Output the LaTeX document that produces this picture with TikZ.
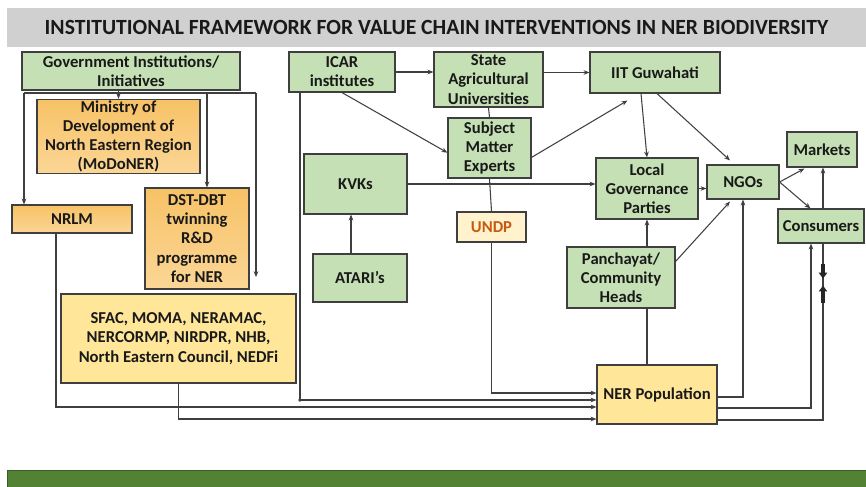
\documentclass[tikz,border=0pt]{standalone}
\usepackage{fontspec}
\setmainfont{Carlito}
\usetikzlibrary{arrows.meta,calc}

\definecolor{boxgreen}{HTML}{C5E0B4}
\definecolor{boxorange}{HTML}{F7C266}
\definecolor{boxorangelt}{HTML}{FBD696}
\definecolor{boxyellow}{HTML}{FFE699}
\definecolor{boxcream}{HTML}{FFF2CC}
\definecolor{undptext}{HTML}{C55A11}
\definecolor{edgegray}{HTML}{3F3F3F}
\definecolor{titlegray}{HTML}{D0D0D0}
\definecolor{footgreen}{HTML}{548235}

\tikzset{
  box/.style={draw=edgegray, line width=1pt, align=center, inner sep=1pt,
    font=\fontsize{14.2}{16.4}\selectfont\bfseries, text=black!90},
  gbox/.style={box, fill=boxgreen},
  obox/.style={box, top color=boxorange, bottom color=boxorangelt},
  ybox/.style={box, fill=boxyellow},
  conn/.style={draw=edgegray, line width=0.9pt},
  bigtip/.style={draw=black!85, line width=3pt, -{Triangle[length=5pt,width=7pt]}},
}

\begin{document}
\begin{tikzpicture}[x=0.03cm, y=-0.03cm, >={Stealth[length=5pt,width=4pt]}]
\useasboundingbox (0,0) rectangle (866,487);

%% =============== Banner and footer strip ===============
\node[fill=titlegray, minimum width=25.77cm, minimum height=1.17cm, inner sep=0pt,
  font=\fontsize{18.5}{21}\selectfont\bfseries, text=black!90] (title) at (436.5,27.5)
  {INSTITUTIONAL FRAMEWORK FOR VALUE CHAIN INTERVENTIONS IN NER BIODIVERSITY};
\node[fill=footgreen, draw=footgreen!70!black, line width=0.8pt, minimum width=25.77cm,
  minimum height=0.51cm, inner sep=0pt] (footer) at (436.5,478.5) {};

%% =============== Government side (left) ===============
\node[gbox, minimum width=6.54cm, minimum height=1.14cm] (gov) at (131,71)
  {Government Institutions/\\Initiatives};
\node[obox, minimum width=4.89cm, minimum height=2.19cm] (modoner) at (118.5,136.5)
  {Ministry of\\Development of\\North Eastern Region\\(MoDoNER)};
\node[obox, minimum width=3.6cm, minimum height=0.84cm] (nrlm) at (72,219) {NRLM};
\node[obox, minimum width=3.12cm, minimum height=3.03cm] (dst) at (197,238.5)
  {DST-DBT\\twinning\\R\&D\\programme\\for NER};
\node[ybox, minimum width=7.05cm, minimum height=2.67cm] (sfac) at (178.5,338.5)
  {SFAC, MOMA, NERAMAC,\\NERCORMP, NIRDPR, NHB,\\North Eastern Council, NEDFi};

%% =============== Research and extension (middle) ===============
\node[gbox, minimum width=3.18cm, minimum height=1.2cm] (icar) at (342,72) {ICAR\\institutes};
\node[gbox, minimum width=3.27cm, minimum height=1.65cm] (sau) at (488.5,79.5)
  {State\\Agricultural\\Universities};
\node[gbox, minimum width=3.9cm, minimum height=1.23cm] (iit) at (655,72.5) {IIT Guwahati};
\node[gbox, minimum width=2.49cm, minimum height=1.8cm] (sme) at (489.5,148)
  {Subject\\Matter\\Experts};
\node[gbox, minimum width=3.09cm, minimum height=1.8cm] (kvks) at (355.5,184) {KVKs};
\node[box, fill=boxcream, text=undptext, minimum width=2.07cm, minimum height=0.9cm]
  (undp) at (491.5,227) {UNDP};
\node[gbox, minimum width=2.82cm, minimum height=1.44cm] (atari) at (360,278) {ATARI’s};

%% =============== Local level and markets (right) ===============
\node[gbox, minimum width=3.06cm, minimum height=1.83cm] (lgp) at (647,188.5)
  {Local\\Governance\\Parties};
\node[gbox, minimum width=2.16cm, minimum height=1.02cm] (ngos) at (743,182) {NGOs};
\node[gbox, minimum width=2.1cm, minimum height=1.05cm] (mkts) at (822,149.5) {Markets};
\node[gbox, minimum width=2.58cm, minimum height=1.02cm] (cons) at (821,226) {Consumers};
\node[gbox, minimum width=3.24cm, minimum height=1.83cm] (pan) at (621,277.5)
  {Panchayat/\\Community\\Heads};
\node[ybox, minimum width=3.6cm, minimum height=1.77cm] (nerpop) at (657,394.5)
  {NER Population};

%% --- Lanes used by the long connectors ---
\coordinate (busL) at (24,93);
\coordinate (busR) at (256,93);
\coordinate (busD) at (207,93);
\coordinate (laneNRLM) at (56,407);
\coordinate (laneSFAC) at (178,419);
\coordinate (laneICAR) at (300,400);
\coordinate (laneUNDP) at (489,393);
\coordinate (outA) at (743,397);
\coordinate (outB) at (811,408);
\coordinate (outC) at (823,420);

%% --- Government bus ---
\draw[conn] (busL) -- (busR);
\draw[conn,->] (modoner.north |- gov.south) -- (modoner.north);
\draw[conn,->] (busL) -- (busL |- nrlm.north);
\draw[conn,->] (busD) -- (busD |- dst.north);
\draw[conn,->, shorten >=14pt] (busR) -- (busR |- sfac.north);

%% --- Into NER Population ---
\draw[conn,->] (nrlm.south -| laneNRLM) -- (laneNRLM) -- (laneNRLM -| nerpop.west);
\draw[conn,->] (sfac.south) |- (laneSFAC -| nerpop.west);
\draw[conn,->] (icar.south -| laneICAR) -- (laneICAR) -- (laneICAR -| nerpop.west);
\fill[edgegray] (laneICAR) circle (1.6pt);
\draw[conn,->] (undp.south) |- (laneUNDP -| nerpop.west);
\draw[conn] (lgp.south |- pan.south) -- (lgp.south |- nerpop.north);

%% --- Research links ---
\draw[conn,->] (icar.east) -- (icar.east -| sau.west);
\draw[conn,->] (iit.west -| sau.east) -- (iit.west);
\draw[conn,->] (icar.south) -- ([yshift=-4pt]sme.west);
\draw[conn] (sau.south) -- (sme.north);
\draw[conn] (sme.south) -- (undp.north);
\draw[conn,->] ([yshift=-8pt]sme.east) -- ($(iit.south west)+(38,7)$);
\draw[conn,->] (kvks.east) -- (kvks.east -| lgp.west);
\draw[conn,->] (atari.north -| 351,0) -- (kvks.south -| 351,0);

%% --- Local level ---
\draw[conn,->] ($(iit.south)+(-14,0)$) -- (lgp.north);
\draw[conn,->] ($(iit.south)+(2,0)$) -- ($(ngos.north)+(-13,-4)$);
\draw[conn,->] (lgp.east) -- (lgp.east -| ngos.west);
\draw[conn,->] (lgp.south |- pan.north) -- (lgp.south);
\draw[conn,->] ($(pan.north east)+(0,15)$) -- ($(ngos.south)+(-13,2)$);
\draw[conn,->] (ngos.east) -- ($(mkts.south west)+(18,1)$);
\draw[conn,->] (ngos.east) -- ($(cons.north west)+(33,0)$);

%% --- Out of NER Population ---
\draw[conn,->] (nerpop.east |- outA) -| (ngos.south);
\draw[conn,->] (nerpop.east |- outB) -| (outB |- cons.south);
\draw[conn] (nerpop.east |- outC) -| (outC |- cons.south);
\draw[conn,->] (outC |- cons.north) -- (outC |- mkts.south);
\draw[bigtip] ($(outC |- cons.south)+(0,20)$) -- ($(outC |- cons.south)+(0,35)$);
\draw[bigtip] ($(outC |- cons.south)+(0,59)$) -- ($(outC |- cons.south)+(0,42)$);

\end{tikzpicture}
\end{document}
